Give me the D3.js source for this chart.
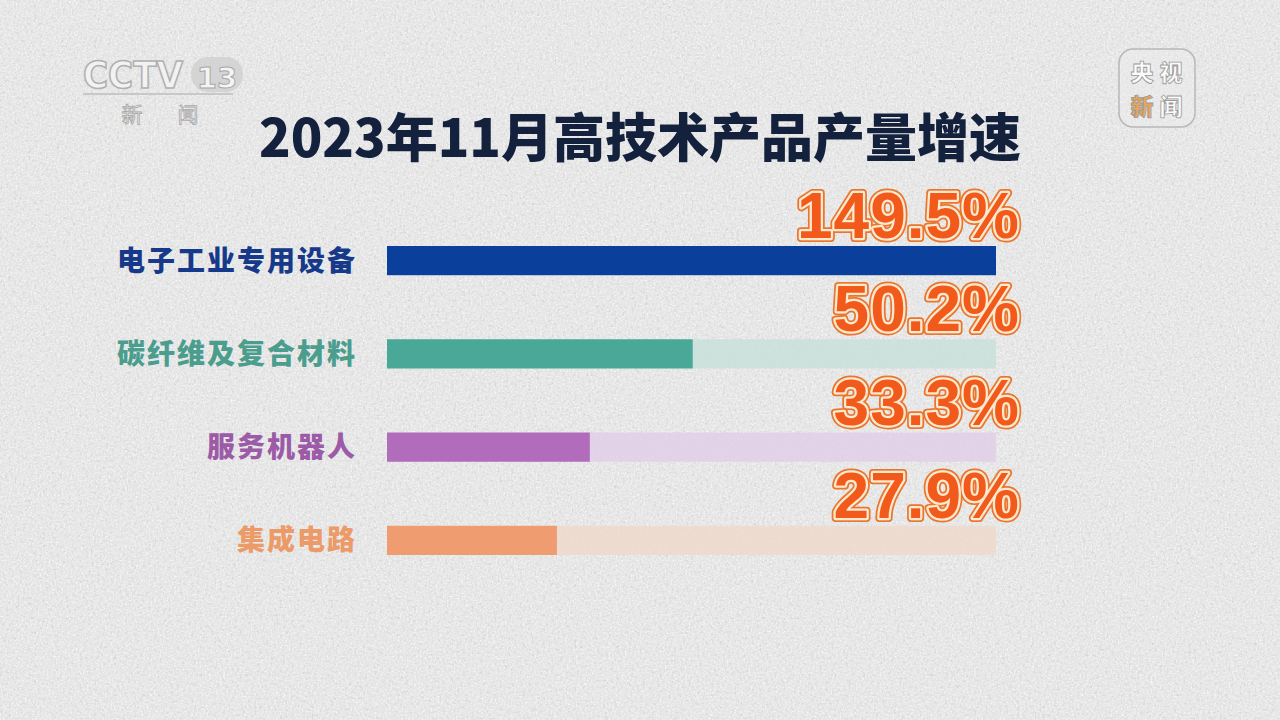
<!DOCTYPE html>
<html lang="zh">
<head>
<meta charset="UTF-8">
<title>2023年11月高技术产品产量增速</title>
<script src="https://d3js.org/d3.v7.min.js"></script>
<style>
  html, body { margin: 0; padding: 0; background: #e4e4e4; }
  svg { display: block; }
  .title { font-family: "Noto Sans CJK SC", sans-serif; font-weight: 900; }
  .cat { font-family: "Noto Sans CJK SC", sans-serif; font-weight: 900; }
  .val { font-family: "Liberation Sans Narrow", "Liberation Sans", sans-serif; font-weight: bold; }
</style>
</head>
<body>
<svg width="1280" height="720"></svg>
<script>
// chart data
const titleText = "2023年11月高技术产品产量增速";
const categories = ["电子工业专用设备", "碳纤维及复合材料", "服务机器人", "集成电路"];
const growth = [149.5, 50.2, 33.3, 27.9];   // %
const barColors = ["#0a3f9c", "#4aa898", "#b16cbb", "#ee9c70"];
const labelColors = ["#17398a", "#4b9d8e", "#9c5ba7", "#ec9a68"];
const trackColors = ["#c3d1ea", "#c8e0db", "#e2cfe7", "#eed9cd"];

const width = 1280, height = 720;
const svg = d3.select("svg");
const defs = svg.append("defs");

// paper texture
const f = defs.append("filter").attr("id", "paper").attr("x", 0).attr("y", 0).attr("width", "100%").attr("height", "100%");
f.append("feTurbulence").attr("type", "fractalNoise").attr("baseFrequency", 0.55).attr("numOctaves", 3).attr("seed", 4).attr("result", "n");
f.append("feColorMatrix").attr("in", "n").attr("type", "matrix")
  .attr("values", "0 0 0 0 1  0 0 0 0 1  0 0 0 0 1  0 0 0 1.7 -0.75");
const g2 = defs.append("filter").attr("id", "paper2").attr("x", 0).attr("y", 0).attr("width", "100%").attr("height", "100%");
g2.append("feTurbulence").attr("type", "fractalNoise").attr("baseFrequency", 0.35).attr("numOctaves", 2).attr("seed", 9).attr("result", "n");
g2.append("feColorMatrix").attr("in", "n").attr("type", "matrix")
  .attr("values", "0 0 0 0 0.55  0 0 0 0 0.55  0 0 0 0 0.55  0 0 0 1.4 -0.72");

svg.append("rect").attr("width", width).attr("height", height).attr("fill", "#e5e5e5");
svg.append("rect").attr("width", width).attr("height", height).attr("filter", "url(#paper2)");
svg.append("rect").attr("width", width).attr("height", height).attr("filter", "url(#paper)");

// scales
const x = d3.scaleLinear().domain([0, 100]).range([387, 996]).clamp(true);
const y = d3.scaleBand().domain(categories).range([246, 555]).paddingInner(0.687).paddingOuter(0);

// title
svg.append("text").attr("class", "title")
  .attr("x", 640).attr("y", 157)
  .attr("text-anchor", "middle")
  .attr("font-size", 52)
  .attr("fill", "#14213d")
  .text(titleText);

const rows = svg.append("g").selectAll("g")
  .data(categories.map((c, i) => ({ cat: c, v: growth[i], i })))
  .join("g");

// track
rows.append("rect")
  .attr("x", x(0)).attr("y", d => y(d.cat))
  .attr("width", x(100) - x(0)).attr("height", y.bandwidth())
  .attr("fill", d => trackColors[d.i]).attr("opacity", 0.85);

// bar
rows.append("rect")
  .attr("x", x(0)).attr("y", d => y(d.cat))
  .attr("width", d => x(d.v) - x(0)).attr("height", y.bandwidth())
  .attr("fill", d => barColors[d.i]);

// category labels
rows.append("text").attr("class", "cat")
  .attr("x", 357).attr("y", d => y(d.cat) + y.bandwidth() / 2)
  .attr("dy", "0.36em")
  .attr("text-anchor", "end")
  .attr("font-size", 28)
  .attr("letter-spacing", 2)
  .attr("fill", d => labelColors[d.i])
  .text(d => d.cat);

// value labels (three layers for the outlined look)
const fmt = d => d3.format(".1f")(d) + "%";
const layers = [
  { stroke: "#e9762e", sw: 8, fill: "#e9762e" },
  { stroke: "#fce9cf", sw: 4.5, fill: "#fce9cf" },
  { stroke: "none", sw: 0, fill: "#f25a1c" }
];
layers.forEach(l => {
  rows.append("text").attr("class", "val")
    .attr("x", 1020).attr("y", d => y(d.cat) - 8)
    .attr("text-anchor", "end")
    .attr("font-size", 64)
    .attr("letter-spacing", 1)
    .attr("fill", l.fill)
    .attr("stroke", l.stroke)
    .attr("stroke-width", l.sw)
    .attr("stroke-linejoin", "round")
    .text(d => fmt(d.v));
});

// CCTV-13 logo
const logo = svg.append("g").attr("transform", "translate(83,88)");
logo.append("text")
  .attr("x", 0).attr("y", 0)
  .attr("font-family", "DejaVu Sans Condensed, DejaVu Sans").attr("font-weight", "bold")
  .attr("font-size", 38)
  .attr("fill", "#f2f2f2").attr("stroke", "#b0b0b0").attr("stroke-width", 1.5)
  .text("CCTV");
logo.append("rect")
  .attr("x", 108).attr("y", -31).attr("width", 52).attr("height", 35).attr("rx", 17)
  .attr("fill", "#d0d0d0").attr("opacity", 0.8);
logo.append("text")
  .attr("x", 134).attr("y", 0).attr("text-anchor", "middle")
  .attr("font-family", "DejaVu Sans").attr("font-weight", "bold")
  .attr("font-size", 29)
  .attr("fill", "#f4f4f4").attr("stroke", "#a8a8a8").attr("stroke-width", 1)
  .text("13");
logo.append("line").attr("x1", 0).attr("x2", 150).attr("y1", 6).attr("y2", 6)
  .attr("stroke", "#c8c8c8").attr("stroke-width", 2);
[["新", 49], ["闻", 105]].forEach(([t, cx]) => {
  logo.append("text")
    .attr("x", cx).attr("y", 34).attr("text-anchor", "middle")
    .attr("font-family", "Noto Sans CJK SC").attr("font-size", 21)
    .attr("fill", "#f2f2f2").attr("stroke", "#a8a8a8").attr("stroke-width", 0.8)
    .text(t);
});

// 央视新闻 logo
const badge = svg.append("g").attr("transform", "translate(1119,49)");
badge.append("rect")
  .attr("width", 76).attr("height", 78).attr("rx", 14)
  .attr("fill", "#eeeeee").attr("fill-opacity", 0.4)
  .attr("stroke", "#b8b8b8").attr("stroke-width", 1.5);
const badgeChars = [["央", 23, 32, "#fbfbfb"], ["视", 52, 32, "#fbfbfb"], ["新", 23, 66, "#e9a65a"], ["闻", 52, 66, "#fbfbfb"]];
badge.selectAll("text.bc").data(badgeChars).join("text").attr("class", "bc")
  .attr("x", d => d[1]).attr("y", d => d[2]).attr("text-anchor", "middle")
  .attr("font-family", "Noto Sans CJK SC").attr("font-weight", 900).attr("font-size", 23)
  .attr("fill", d => d[3]).attr("stroke", "#9a9a9a").attr("stroke-width", 0.8)
  .text(d => d[0]);
</script>
</body>
</html>
